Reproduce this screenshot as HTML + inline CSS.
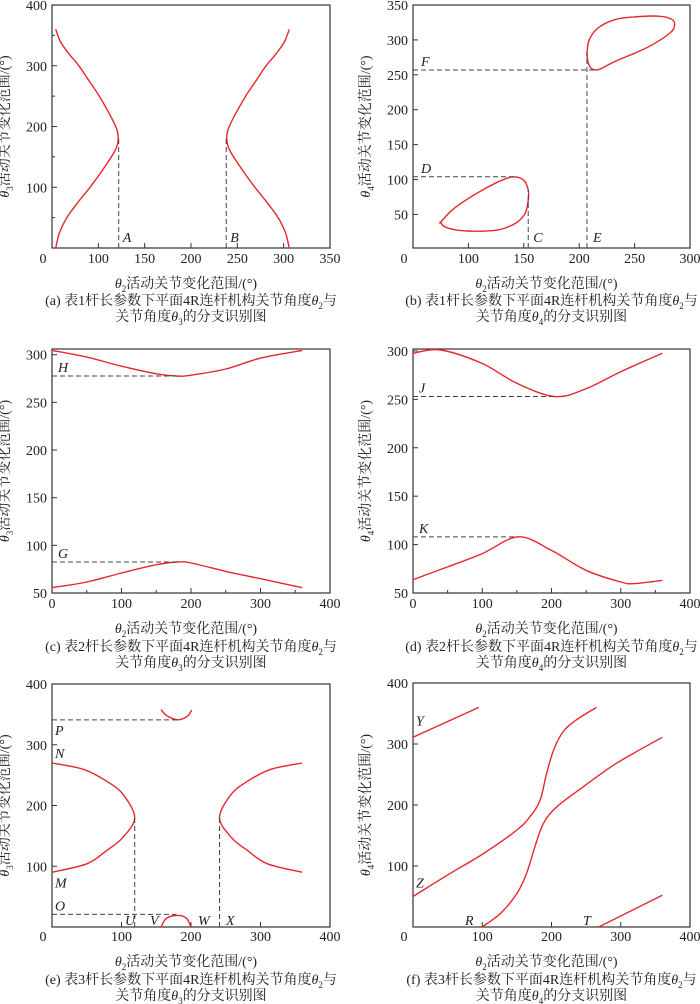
<!DOCTYPE html>
<html><head><meta charset="utf-8">
<style>
body{margin:0;background:#fff;}
svg{display:block;font-family:"Liberation Serif","Noto Serif CJK SC","Noto Sans CJK SC",serif;}
.tk{font-size:14px;fill:#222;}
.ttl{font-size:14px;fill:#222;}
.lab{font-size:14px;font-style:italic;fill:#222;}
</style></head>
<body>
<svg id="fig" width="700" height="1004" viewBox="0 0 700 1004" xmlns="http://www.w3.org/2000/svg"></svg>
<script>
// ---- data (θ2, θ3/θ4 in degrees) ----
const aLeftT2 = [54,58,66,78,91,103,114,119.5,121.5,120,114,101,90,79,68,59,54];
const aLeftT3 = [0,25,50,75,100,125,150,165,180,195,215,250,275,300,320,340,360];
const bLowT2 = [75,85,100,115,130,141,150,154,154,151,142,127,106,88,78,75];
const bLowT4 = [39,56,73,87,99,104,99,85,70,51,37,28,26,28,33,39];
const bUpT2 = [207,209,217,232,250,272,284,286,282,266,250,232,220,216,211,208,207];
const bUpT4 = [281,300,317,329,333,334,329,320,310,293,281,269,259,257,259,268,281];
const cT2 = [0,50,100,150,180,200,250,300,360];
const cLowT3 = [55.6,61.5,71,79.7,82.5,81.5,72.7,65,55.6];
const cUpT3 = [304.5,297.5,288,280,277.6,278.5,285,296.5,304.5];
const dUpT2 = [0,40,100,150,205,250,300,360];
const dUpT4 = [297.6,301,287,266.6,252.8,261,278.6,297.6];
const dLowT2 = [0,50,100,152,200,250,300,320,360];
const dLowT4 = [63.8,77,90.7,108,94,73.4,61.4,59.7,63.1];
const eLeftT2 = [0,50,78.6,102,119,102,78.6,45,0];
const eLeftT3 = [90,104,125.7,147.5,180,218.6,240,259.6,270];
const eTopT2 = [157,165,181,195,201];
const eTopT3 = [358,348,341,347,357];
const eBotT2 = [157,164,178.6,193,200];
const eBotT3 = [0,13.7,19,15,0];
const fYT2 = [0,95]; const fYT4 = [311,360];
const fZT2 = [0,54,102,150,169,183.6,193,203,217,236.5,265];
const fZT4 = [50,88,120.5,159,181,208,252,290,320.5,340,360];
const fRT2 = [99.5,126,150,164,176,188.5,207.7,246,294,360];
const fRT4 = [0,22,55,88,131.5,170,197,230,268.5,311];
const fTT2 = [268,360]; const fTT4 = [0,52];
const aMarkT2 = [122,238]; const aMarkT3 = [182,182];
const bC = [154,85]; const bD = [141,104]; const bE = [207,281]; const bF = [217,257];
const cG = [180,82.5]; const cH = [180,277.7];
const dJ = [205,253]; const dK = [152,108];
const eP = [181,341]; const eO = [179,20.8]; const eU = [119,180]; const eX = [241,180];

const NS='http://www.w3.org/2000/svg';
const svg=document.getElementById('fig');
function mk(tag,attrs,parent){const e=document.createElementNS(NS,tag);for(const k in attrs)e.setAttribute(k,attrs[k]);(parent||svg).appendChild(e);return e;}
function path(pts,closed){
  if(pts.length<3){return 'M'+pts.map(p=>p[0].toFixed(1)+','+p[1].toFixed(1)).join('L');}
  const n=pts.length;let d='M'+pts[0][0].toFixed(1)+','+pts[0][1].toFixed(1);
  const P=i=>closed?pts[(i+n)%n]:pts[Math.max(0,Math.min(n-1,i))];
  const m=closed?n:n-1;
  for(let i=0;i<m;i++){const p0=P(i-1),p1=P(i),p2=P(i+1),p3=P(i+2);
    const c1=[p1[0]+(p2[0]-p0[0])/6,p1[1]+(p2[1]-p0[1])/6],c2=[p2[0]-(p3[0]-p1[0])/6,p2[1]-(p3[1]-p1[1])/6];
    d+='C'+c1[0].toFixed(1)+','+c1[1].toFixed(1)+' '+c2[0].toFixed(1)+','+c2[1].toFixed(1)+' '+p2[0].toFixed(1)+','+p2[1].toFixed(1);}
  return d+(closed?'Z':'');
}
function panel(id,L,R,T,B,xr,yr,xt,yt,xMinor,yMinor,yLab,xlabY,extraZero,cap1,cap2,sub,capY){
  const g=mk('g',{});
  
  
  const X=v=>L+(v-xr[0])/(xr[1]-xr[0])*(R-L);
  const Y=v=>B-(v-yr[0])/(yr[1]-yr[0])*(B-T);
  const box=mk('rect',{x:L,y:T,width:R-L,height:B-T,fill:'none',stroke:'#333','stroke-width':1.2},g);
  
  
  xt.forEach(v=>{mk('line',{x1:X(v),x2:X(v),y1:B,y2:B-5,stroke:'#333'},g);
    const t=mk('text',{x:X(v),y:xlabY,'text-anchor':'middle',class:'tk'},g);t.textContent=v;
    
    });
  xMinor.forEach(v=>mk('line',{x1:X(v),x2:X(v),y1:B,y2:B-3,stroke:'#333'},g));
  yt.forEach(v=>{mk('line',{x1:L,x2:L+5,y1:Y(v),y2:Y(v),stroke:'#333'},g);
    const t=mk('text',{x:L-5,y:Y(v)+5,'text-anchor':'end',class:'tk'},g);t.textContent=v;
    
    });
  yMinor.forEach(v=>mk('line',{x1:L,x2:L+3,y1:Y(v),y2:Y(v),stroke:'#333'},g));
  if(extraZero){const t=mk('text',{x:L-9,y:xlabY,'text-anchor':'middle',class:'tk'},g);t.textContent='0';}
  const cx=(L+R)/2-5;
  const xt2=mk('text',{x:cx,y:xlabY+25,'text-anchor':'middle',class:'ttl'},g);
  xt2.innerHTML='<tspan font-style="italic">θ</tspan><tspan font-size="9" dy="4">2</tspan><tspan dy="-4">活动关节变化范围/(°)</tspan>';
  
  
  const yx=L-43,yy=(T+B)/2;
  const yt2=mk('text',{x:yx,y:yy,'text-anchor':'middle',class:'ttl',transform:'rotate(-90 '+yx+' '+yy+')'},g);
  yt2.innerHTML='<tspan font-style="italic">θ</tspan><tspan font-size="9" dy="4">'+yLab+'</tspan><tspan dy="-4">活动关节变化范围/(°)</tspan>';
  
  
  const c1=mk('text',{x:cx+5,y:capY,'text-anchor':'middle',class:'ttl'},g);
  c1.innerHTML=cap1+'<tspan font-style="italic">θ</tspan><tspan font-size="9" dy="4">2</tspan><tspan dy="-4">与</tspan>';
  
  
  const c2=mk('text',{x:cx+5,y:capY+16,'text-anchor':'middle',class:'ttl'},g);
  c2.innerHTML='关节角度<tspan font-style="italic">θ</tspan><tspan font-size="9" dy="4">'+sub+'</tspan><tspan dy="-4">的分支识别图</tspan>';
  
  
  return {g,X,Y};
}
function curve(p,xs,ys,name,closed){
  const pts=xs.map((v,i)=>[p.X(v),p.Y(ys[i])]);
  const e=mk('path',{d:path(pts,closed),fill:'none',stroke:'#e8262d','stroke-width':1.4},p.g);
  
  
}
function hdash(p,x0,pt,name){const e=mk('line',{x1:p.X(x0),x2:p.X(pt[0]),y1:p.Y(pt[1]),y2:p.Y(pt[1]),stroke:'#444','stroke-dasharray':'5,3','stroke-width':1},p.g);
  
  }
function vdash(p,y0,pt,name){const e=mk('line',{x1:p.X(pt[0]),x2:p.X(pt[0]),y1:p.Y(y0),y2:p.Y(pt[1]),stroke:'#444','stroke-dasharray':'5,3','stroke-width':1},p.g);
  
  }
function lab(p,px,py,txt){const t=mk('text',{x:px,y:py,class:'lab'},p.g);t.textContent=txt;
  
  }

// (a)
const pa=panel('a',52,330,5,248,[50,350],[0,400],[100,150,200,250,300,350],[100,200,300,400],[],[50,150,250,350],'3',263,true,'(a) 表1杆长参数下平面4R连杆机构关节角度','','3',305);
curve(pa,aLeftT2,aLeftT3,'left-branch-curve');
curve(pa,aLeftT2.map(v=>360-v),aLeftT3,'right-branch-curve');
vdash(pa,0,[aMarkT2[0],aMarkT3[0]],'dashed-A');
vdash(pa,0,[aMarkT2[1],aMarkT3[1]],'dashed-B');
lab(pa,pa.X(aMarkT2[0])+4,242,'A');lab(pa,pa.X(aMarkT2[1])+4,242,'B');
// (b)
const pb=panel('b',413,690,5,248,[50,300],[2,350],[100,150,200,250,300],[50,100,150,200,250,300,350],[],[],'4',263,true,'(b) 表1杆长参数下平面4R连杆机构关节角度','','4',305);
curve(pb,bLowT2,bLowT4,'lower-loop',true);
curve(pb,bUpT2,bUpT4,'upper-loop',true);
vdash(pb,2,bC,'dashed-C');hdash(pb,50,bD,'dashed-D');vdash(pb,2,bE,'dashed-E');hdash(pb,50,bF,'dashed-F');
lab(pb,pb.X(bC[0])+5,242,'C');lab(pb,pb.X(bE[0])+6,242,'E');lab(pb,421,pb.Y(bD[1])-4,'D');lab(pb,421,pb.Y(bF[1])-4,'F');
// (c)
const pc=panel('c',52,330,349,593,[0,400],[50,306],[0,100,200,300,400],[50,100,150,200,250,300],[50,150,250,350],[],'3',608,false,'(c) 表2杆长参数下平面4R连杆机构关节角度','','3',651);
curve(pc,cT2,cLowT3,'lower-branch');curve(pc,cT2,cUpT3,'upper-branch');
hdash(pc,0,cG,'dashed-G');hdash(pc,0,cH,'dashed-H');
lab(pc,58,pc.Y(cG[1])-4,'G');lab(pc,58,pc.Y(cH[1])-4,'H');
// (d)
const pd=panel('d',413,690,349,593,[0,400],[50,302],[0,100,200,300,400],[50,100,150,200,250,300],[50,150,250,350],[],'4',608,false,'(d) 表2杆长参数下平面4R连杆机构关节角度','','4',651);
curve(pd,dUpT2,dUpT4,'upper-branch');curve(pd,dLowT2,dLowT4,'lower-branch');
hdash(pd,0,dJ,'dashed-J');hdash(pd,0,dK,'dashed-K');
lab(pd,419,pd.Y(dJ[1])-4,'J');lab(pd,419,pd.Y(dK[1])-4,'K');
// (e)
const pe=panel('e',52,330,684,927,[0,400],[0,400],[100,200,300,400],[100,200,300,400],[],[],'3',941,true,'(e) 表3杆长参数下平面4R连杆机构关节角度','','3',984);
curve(pe,eLeftT2,eLeftT3,'left-branch');
curve(pe,eLeftT2.map(v=>360-v),eLeftT3,'right-branch');
curve(pe,eTopT2,eTopT3,'top-arc');curve(pe,eBotT2,eBotT3,'bottom-arc');
hdash(pe,0,eP,'dashed-P');hdash(pe,0,eO,'dashed-O');vdash(pe,0,eU,'dashed-U');vdash(pe,0,eX,'dashed-X');
lab(pe,55,pe.Y(eP[1])+15,'P');lab(pe,55,pe.Y(272)-4,'N');lab(pe,55,pe.Y(90)+15,'M');lab(pe,55,pe.Y(eO[1])-4,'O');
lab(pe,125,925,'U');lab(pe,150,925,'V');lab(pe,198,925,'W');lab(pe,226,925,'X');
// (f)
const pf=panel('f',413,690,683,927,[0,400],[0,400],[100,200,300,400],[100,200,300,400],[],[],'4',941,true,'(f) 表3杆长参数下平面4R连杆机构关节角度','','4',984);
curve(pf,fYT2,fYT4,'branch-Y');curve(pf,fZT2,fZT4,'branch-Z');curve(pf,fRT2,fRT4,'branch-R');curve(pf,fTT2,fTT4,'branch-T');
lab(pf,416,pf.Y(330),'Y');lab(pf,416,pf.Y(65),'Z');lab(pf,465,925,'R');lab(pf,583,925,'T');
</script>
</body></html>
